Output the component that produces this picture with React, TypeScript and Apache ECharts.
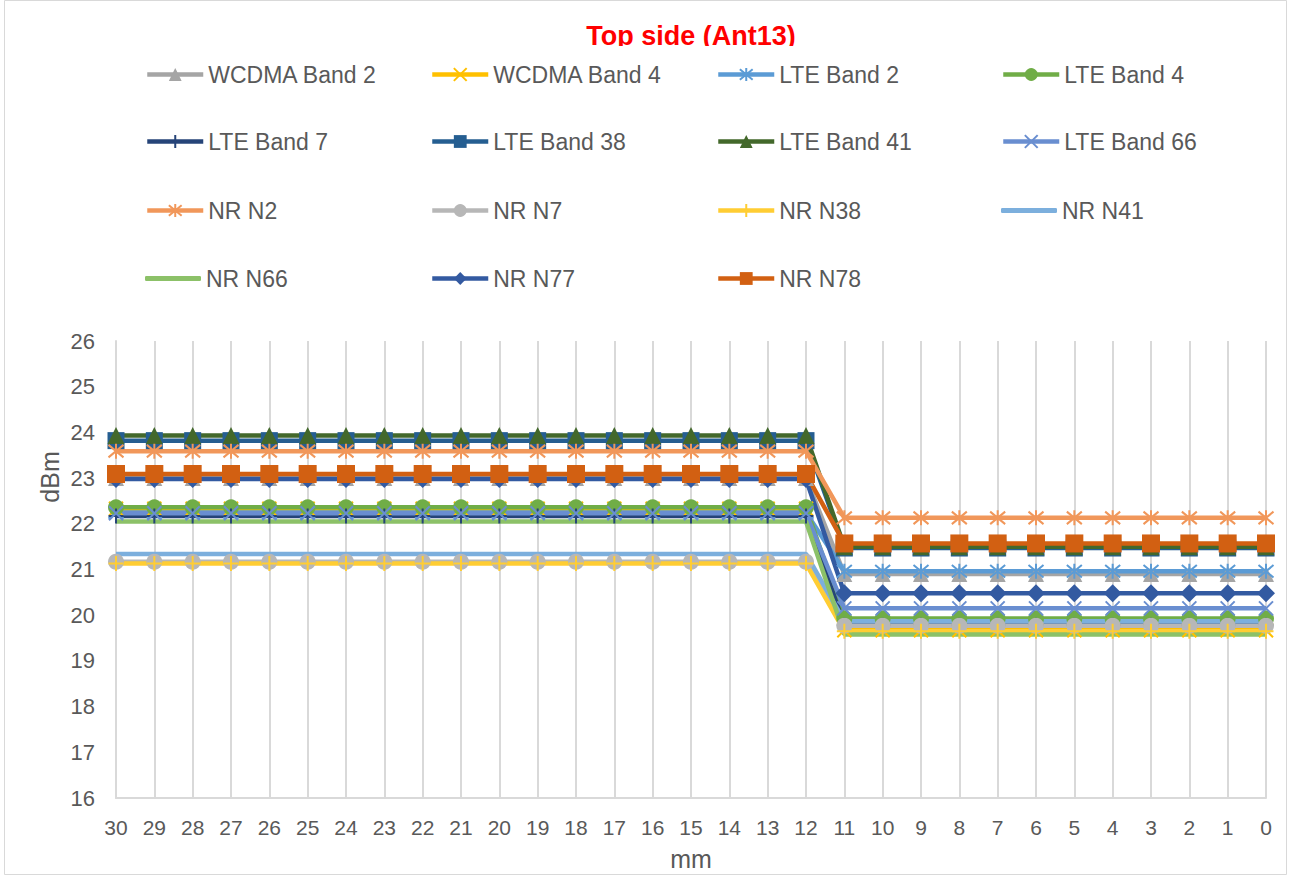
import React, { useEffect, useRef } from "react";
import * as echarts from "echarts";

const categories = ["30","29","28","27","26","25","24","23","22","21","20","19","18","17","16","15","14","13","12","11","10","9","8","7","6","5","4","3","2","1","0"];

const seriesNames = ["WCDMA Band 2","WCDMA Band 4","LTE Band 2","LTE Band 4","LTE Band 7","LTE Band 38","LTE Band 41","LTE Band 66","NR N2","NR N7","NR N38","NR N41","NR N66","NR N77","NR N78"];

const wcdmaBand2 = [23.0,23.0,23.0,23.0,23.0,23.0,23.0,23.0,23.0,23.0,23.0,23.0,23.0,23.0,23.0,23.0,23.0,23.0,23.0,20.9,20.9,20.9,20.9,20.9,20.9,20.9,20.9,20.9,20.9,20.9,20.9];
const wcdmaBand4 = [22.33,22.33,22.33,22.33,22.33,22.33,22.33,22.33,22.33,22.33,22.33,22.33,22.33,22.33,22.33,22.33,22.33,22.33,22.33,19.67,19.67,19.67,19.67,19.67,19.67,19.67,19.67,19.67,19.67,19.67,19.67];
const lteBand2 = [22.25,22.25,22.25,22.25,22.25,22.25,22.25,22.25,22.25,22.25,22.25,22.25,22.25,22.25,22.25,22.25,22.25,22.25,22.25,20.96,20.96,20.96,20.96,20.96,20.96,20.96,20.96,20.96,20.96,20.96,20.96];
const lteBand4 = [22.36,22.36,22.36,22.36,22.36,22.36,22.36,22.36,22.36,22.36,22.36,22.36,22.36,22.36,22.36,22.36,22.36,22.36,22.36,19.93,19.93,19.93,19.93,19.93,19.93,19.93,19.93,19.93,19.93,19.93,19.93];
const lteBand7 = [22.17,22.17,22.17,22.17,22.17,22.17,22.17,22.17,22.17,22.17,22.17,22.17,22.17,22.17,22.17,22.17,22.17,22.17,22.17,19.78,19.78,19.78,19.78,19.78,19.78,19.78,19.78,19.78,19.78,19.78,19.78];
const lteBand38 = [23.82,23.82,23.82,23.82,23.82,23.82,23.82,23.82,23.82,23.82,23.82,23.82,23.82,23.82,23.82,23.82,23.82,23.82,23.82,21.47,21.47,21.47,21.47,21.47,21.47,21.47,21.47,21.47,21.47,21.47,21.47];
const lteBand41 = [23.93,23.93,23.93,23.93,23.93,23.93,23.93,23.93,23.93,23.93,23.93,23.93,23.93,23.93,23.93,23.93,23.93,23.93,23.93,21.5,21.5,21.5,21.5,21.5,21.5,21.5,21.5,21.5,21.5,21.5,21.5];
const lteBand66 = [22.23,22.23,22.23,22.23,22.23,22.23,22.23,22.23,22.23,22.23,22.23,22.23,22.23,22.23,22.23,22.23,22.23,22.23,22.23,20.15,20.15,20.15,20.15,20.15,20.15,20.15,20.15,20.15,20.15,20.15,20.15];
const nrN2 = [23.59,23.59,23.59,23.59,23.59,23.59,23.59,23.59,23.59,23.59,23.59,23.59,23.59,23.59,23.59,23.59,23.59,23.59,23.59,22.13,22.13,22.13,22.13,22.13,22.13,22.13,22.13,22.13,22.13,22.13,22.13];
const nrN7 = [21.17,21.17,21.17,21.17,21.17,21.17,21.17,21.17,21.17,21.17,21.17,21.17,21.17,21.17,21.17,21.17,21.17,21.17,21.17,19.77,19.77,19.77,19.77,19.77,19.77,19.77,19.77,19.77,19.77,19.77,19.77];
const nrN38 = [21.13,21.13,21.13,21.13,21.13,21.13,21.13,21.13,21.13,21.13,21.13,21.13,21.13,21.13,21.13,21.13,21.13,21.13,21.13,19.65,19.65,19.65,19.65,19.65,19.65,19.65,19.65,19.65,19.65,19.65,19.65];
const nrN41 = [21.34,21.34,21.34,21.34,21.34,21.34,21.34,21.34,21.34,21.34,21.34,21.34,21.34,21.34,21.34,21.34,21.34,21.34,21.34,19.87,19.87,19.87,19.87,19.87,19.87,19.87,19.87,19.87,19.87,19.87,19.87];
const nrN66 = [22.05,22.05,22.05,22.05,22.05,22.05,22.05,22.05,22.05,22.05,22.05,22.05,22.05,22.05,22.05,22.05,22.05,22.05,22.05,19.58,19.58,19.58,19.58,19.58,19.58,19.58,19.58,19.58,19.58,19.58,19.58];
const nrN77 = [22.98,22.98,22.98,22.98,22.98,22.98,22.98,22.98,22.98,22.98,22.98,22.98,22.98,22.98,22.98,22.98,22.98,22.98,22.98,20.48,20.48,20.48,20.48,20.48,20.48,20.48,20.48,20.48,20.48,20.48,20.48];
const nrN78 = [23.09,23.09,23.09,23.09,23.09,23.09,23.09,23.09,23.09,23.09,23.09,23.09,23.09,23.09,23.09,23.09,23.09,23.09,23.09,21.57,21.57,21.57,21.57,21.57,21.57,21.57,21.57,21.57,21.57,21.57,21.57];

const seriesData = [wcdmaBand2, wcdmaBand4, lteBand2, lteBand4, lteBand7, lteBand38, lteBand41, lteBand66, nrN2, nrN7, nrN38, nrN41, nrN66, nrN77, nrN78];

const yTicks = { min: 16, max: 26, interval: 1 };

const X_PATH = "path://M0,0L10,10M10,0L0,10";
const STAR_PATH = "path://M0,0L10,10M10,0L0,10M5,-1L5,11";
const PLUS_PATH = "path://M5,0L5,10M0,5L10,5";

const styles = [
  { color: "#A5A5A5", symbol: "triangle", size: 16, stroke: false },
  { color: "#FFC000", symbol: X_PATH, size: 14, stroke: true },
  { color: "#5B9BD5", symbol: STAR_PATH, size: 15, stroke: true },
  { color: "#70AD47", symbol: "circle", size: 16, stroke: false },
  { color: "#264478", symbol: PLUS_PATH, size: 15, stroke: true },
  { color: "#255E91", symbol: "rect", size: 17, stroke: false },
  { color: "#43682B", symbol: "triangle", size: 17, stroke: false },
  { color: "#698ED0", symbol: X_PATH, size: 14, stroke: true },
  { color: "#F1975A", symbol: STAR_PATH, size: 15, stroke: true },
  { color: "#B7B7B7", symbol: "circle", size: 16, stroke: false },
  { color: "#FFCD33", symbol: PLUS_PATH, size: 15, stroke: true },
  { color: "#7CAFDD", symbol: "none", size: 0, stroke: false },
  { color: "#8CC168", symbol: "none", size: 0, stroke: false },
  { color: "#335AA1", symbol: "diamond", size: 18, stroke: false },
  { color: "#D26012", symbol: "rect", size: 18, stroke: false },
];

const FONT = "'Liberation Sans', Arial, sans-serif";
const colX = [145, 430, 716, 1001];
const rowY = [75, 142, 211, 279];

export default function App() {
  const ref = useRef<HTMLDivElement>(null);
  useEffect(() => {
    if (!ref.current) return;
    const chart = echarts.init(ref.current, undefined, { renderer: "svg" });

    const series = seriesNames.map((name, i) => {
      const s = styles[i];
      return {
        name,
        type: "line",
        data: seriesData[i],
        symbol: s.symbol,
        symbolSize: s.size,
        showSymbol: s.symbol !== "none",
        lineStyle: { color: s.color, width: 4.5 },
        itemStyle: s.stroke
          ? { color: s.color, borderColor: s.color, borderWidth: 2 }
          : { color: s.color, borderWidth: 0 },
        emphasis: { disabled: true },
        z: 2,
      };
    });

    const legends = seriesNames.map((name, i) => {
      const s = styles[i];
      const noMarker = s.symbol === "none";
      return {
        data: noMarker ? [{ name, icon: "roundRect" }] : [name],
        left: colX[i % 4],
        top: rowY[Math.floor(i / 4)] - 12,
        itemWidth: 56,
        itemHeight: noMarker ? 5 : 16,
        padding: 0,
        selectedMode: false,
        lineStyle: { width: 4.5 },
        textStyle: { fontSize: 23, color: "#595959", fontFamily: FONT },
      };
    });

    chart.setOption({
      animation: false,
      backgroundColor: "#ffffff",
      textStyle: { fontFamily: FONT },
      graphic: [
        {
          type: "rect",
          shape: { x: 4.5, y: 0.5, width: 1282, height: 874 },
          style: { fill: "none", stroke: "#d9d9d9", lineWidth: 1 },
          silent: true,
        },
        {
          type: "text",
          x: 691,
          y: 22,
          style: {
            text: "Top side (Ant13)",
            fontSize: 27,
            fontWeight: "bold",
            fill: "#ff0000",
            textAlign: "center",
            textVerticalAlign: "top",
            fontFamily: FONT,
          },
          z: 10,
        },
        {
          type: "rect",
          shape: { x: 540, y: 46, width: 300, height: 12 },
          style: { fill: "#ffffff" },
          z: 11,
          silent: true,
        },
        {
          type: "text",
          x: 50,
          y: 477,
          rotation: Math.PI / 2,
          style: {
            text: "dBm",
            fontSize: 25,
            fill: "#595959",
            textAlign: "center",
            textVerticalAlign: "middle",
            fontFamily: FONT,
          },
        },
      ],
      legend: legends,
      grid: { left: 116, right: 24, top: 341, bottom: 75, containLabel: false },
      xAxis: {
        type: "category",
        data: categories,
        boundaryGap: false,
        name: "mm",
        nameLocation: "middle",
        nameGap: 48,
        nameTextStyle: { fontSize: 25, color: "#595959", fontFamily: FONT },
        axisLine: { lineStyle: { color: "#d9d9d9", width: 2 } },
        axisTick: { show: false },
        axisLabel: { fontSize: 21, color: "#595959", margin: 19, fontFamily: FONT },
        splitLine: { show: true, lineStyle: { color: "#d9d9d9", width: 2 } },
      },
      yAxis: {
        type: "value",
        min: yTicks.min,
        max: yTicks.max,
        interval: yTicks.interval,
        axisLine: { show: true, lineStyle: { color: "#d9d9d9", width: 2 } },
        axisTick: { show: false },
        axisLabel: { fontSize: 22, color: "#595959", margin: 21, fontFamily: FONT },
        splitLine: { show: false },
      },
      series,
    });
    return () => chart.dispose();
  }, []);
  return (
    <div
      ref={ref}
      style={{ position: "absolute", left: 0, top: 0, width: 1290, height: 876, background: "#fff" }}
    />
  );
}
